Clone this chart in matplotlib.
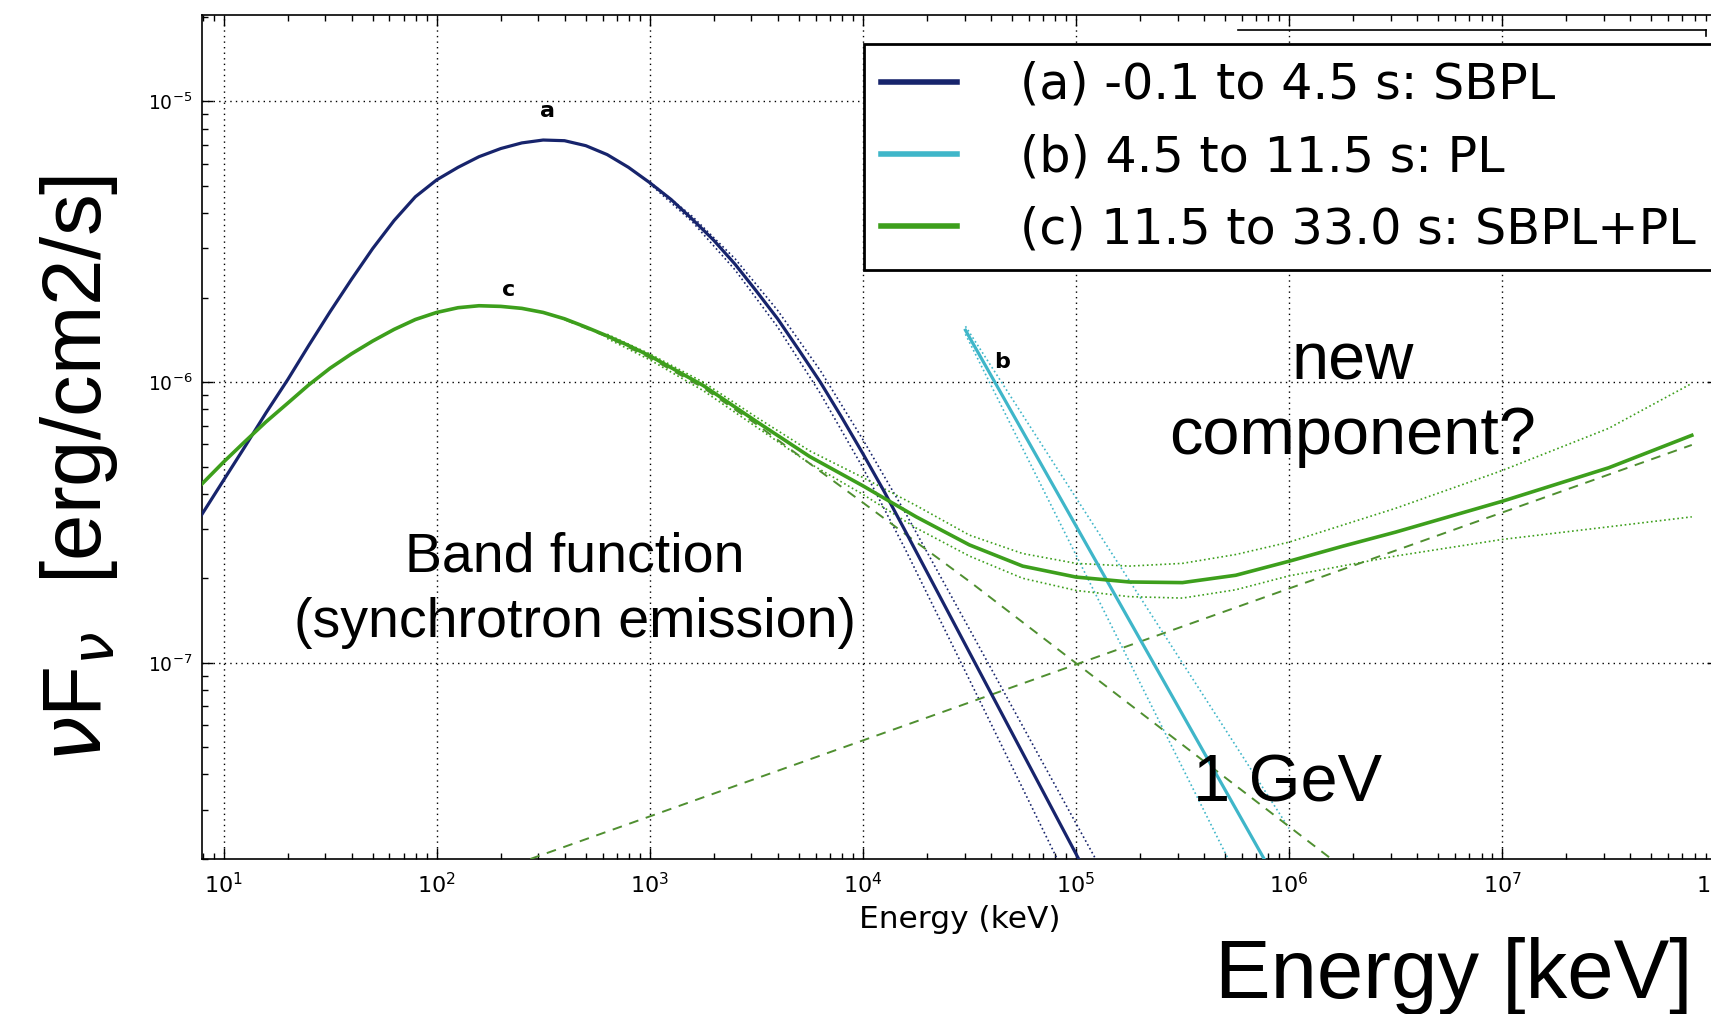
import matplotlib
matplotlib.use("Agg")
import matplotlib.pyplot as plt
from matplotlib.lines import Line2D

# values (energy in keV, nuFnu in erg/cm2/s)
e_a = [7.76, 10, 12.6, 15.8, 20, 25.1, 31.6, 39.8, 50.1, 63.1, 79.4, 100, 126, 158,
       200, 251, 316, 398, 501, 631, 794, 1000, 1259, 1585, 1995, 2512, 3162, 3981,
       5012, 6310, 7943, 1e4, 1.26e4, 1.58e4, 3.16e4, 1.03e5, 1.26e5]
f_a = [3.30e-7, 4.47e-7, 5.89e-7, 7.76e-7, 1.02e-6, 1.35e-6, 1.78e-6, 2.32e-6,
       2.99e-6, 3.76e-6, 4.57e-6, 5.25e-6, 5.82e-6, 6.35e-6, 6.79e-6, 7.11e-6,
       7.28e-6, 7.24e-6, 6.95e-6, 6.46e-6, 5.82e-6, 5.13e-6, 4.47e-6, 3.80e-6,
       3.20e-6, 2.63e-6, 2.11e-6, 1.68e-6, 1.30e-6, 1.0e-6, 7.50e-7, 5.56e-7,
       4.07e-7, 2.95e-7, 1.09e-7, 2.0e-8, 1.49e-8]
e_a_hi = [1000, 1585, 2512, 3981, 6310, 1e4, 1.58e4, 3.16e4, 1e5, 1.26e5]
f_a_hi = [5.16e-6, 3.89e-6, 2.75e-6, 1.80e-6, 1.10e-6, 6.24e-7, 3.43e-7, 1.32e-7,
          2.68e-8, 1.95e-8]
e_a_lo = [1000, 1585, 2512, 3981, 6310, 1e4, 1.58e4, 3.16e4, 7.94e4, 8.91e4]
f_a_lo = [5.09e-6, 3.72e-6, 2.51e-6, 1.57e-6, 9.12e-7, 4.95e-7, 2.54e-7, 8.71e-8,
          2.09e-8, 1.74e-8]

e_b = [3.03e4, 7.64e5]
f_b = [1.53e-6, 2.0e-8]
e_b_hi = [3.03e4, 1.0e6]
f_b_hi = [1.58e-6, 2.57e-8]
e_b_lo = [3.03e4, 5.18e5]
f_b_lo = [1.48e-6, 2.0e-8]

e_c = [7.76, 10, 12.6, 15.8, 20, 25.1, 31.6, 39.8, 50.1, 63.1, 79.4, 100, 126, 158,
       200, 251, 316, 398, 501, 631, 794, 1000, 1778, 3162, 5623, 1e4, 1.78e4,
       3.16e4, 5.62e4, 1e5, 1.78e5, 3.16e5, 5.62e5, 1e6, 1.78e6, 3.16e6, 1e7,
       3.16e7, 7.76e7]
f_c = [4.27e-7, 5.19e-7, 6.14e-7, 7.21e-7, 8.41e-7, 9.77e-7, 1.12e-6, 1.26e-6,
       1.40e-6, 1.54e-6, 1.67e-6, 1.77e-6, 1.84e-6, 1.87e-6, 1.86e-6, 1.83e-6,
       1.77e-6, 1.68e-6, 1.57e-6, 1.46e-6, 1.35e-6, 1.24e-6, 9.73e-7, 7.24e-7,
       5.43e-7, 4.27e-7, 3.31e-7, 2.63e-7, 2.21e-7, 2.02e-7, 1.94e-7, 1.93e-7,
       2.05e-7, 2.30e-7, 2.60e-7, 2.92e-7, 3.76e-7, 4.95e-7, 6.46e-7]
e_c_band = [631, 1000, 1778, 3162, 5623, 1e4, 1.78e4, 3.16e4, 5.62e4, 1e5, 1.78e5,
            3.16e5, 5.62e5, 1e6, 3.16e6, 1e7, 3.16e7, 7.76e7]
f_c_hi = [1.48e-6, 1.26e-6, 1.0e-6, 7.50e-7, 5.69e-7, 4.57e-7, 3.63e-7, 2.85e-7,
          2.45e-7, 2.26e-7, 2.21e-7, 2.26e-7, 2.43e-7, 2.69e-7, 3.55e-7, 4.84e-7,
          6.84e-7, 9.89e-7]
f_c_lo = [1.43e-6, 1.20e-6, 9.33e-7, 6.92e-7, 5.13e-7, 3.98e-7, 3.02e-7, 2.40e-7,
          2.0e-7, 1.81e-7, 1.72e-7, 1.70e-7, 1.82e-7, 2.04e-7, 2.40e-7, 2.75e-7,
          3.05e-7, 3.31e-7]
e_c_sbpl = [398, 631, 1000, 1778, 3162, 5623, 1e4, 1.78e4, 3.16e4, 1.58e6]
f_c_sbpl = [1.67e-6, 1.45e-6, 1.22e-6, 9.55e-7, 7.08e-7, 5.13e-7, 3.72e-7, 2.69e-7,
            1.95e-7, 2.0e-8]
e_c_pl = [275, 7.76e7]
f_c_pl = [2.0e-8, 5.97e-7]

labels = ["(a) -0.1 to 4.5 s: SBPL", "(b) 4.5 to 11.5 s: PL", "(c) 11.5 to 33.0 s: SBPL+PL"]
c_a, c_b, c_c, c_dash = "#17246c", "#3fb6c9", "#3d9f1c", "#4f8f30"

W, H = 1711, 1014
fig = plt.figure(figsize=(W / 100, H / 100), dpi=100)
ax = fig.add_axes([202 / W, 155 / H, 1516 / W, 844 / H])
ax.set_xscale("log")
ax.set_yscale("log")

ax.plot(e_a, f_a, color=c_a, lw=2.3, label=labels[0], zorder=4)
ax.plot(e_a_hi, f_a_hi, color=c_a, lw=1.2, ls=":", zorder=3)
ax.plot(e_a_lo, f_a_lo, color=c_a, lw=1.2, ls=":", zorder=3)

ax.plot(e_b, f_b, color=c_b, lw=2.3, label=labels[1], zorder=4)
ax.plot(e_b_hi, f_b_hi, color=c_b, lw=1.2, ls=":", zorder=3)
ax.plot(e_b_lo, f_b_lo, color=c_b, lw=1.2, ls=":", zorder=3)

ax.plot(e_c, f_c, color=c_c, lw=2.6, label=labels[2], zorder=4)
ax.plot(e_c_band, f_c_hi, color=c_c, lw=1.2, ls=":", zorder=3)
ax.plot(e_c_band, f_c_lo, color=c_c, lw=1.2, ls=":", zorder=3)
ax.plot(e_c_sbpl, f_c_sbpl, color=c_dash, lw=1.4, ls=(0, (5, 4)), zorder=3)
ax.plot(e_c_pl, f_c_pl, color=c_dash, lw=1.4, ls=(0, (5, 4)), zorder=3)

ax.set_xlim(7.92, 1.03e8)
ax.set_ylim(2.0e-8, 2.03e-5)
ax.grid(True, which="major", color="k", lw=1.0, ls=(0, (1, 3)))
ax.tick_params(which="both", direction="in", top=True, right=True, width=1)
ax.tick_params(which="major", length=8)
ax.tick_params(which="minor", length=4)
ax.tick_params(axis="x", labelsize=16, pad=9)
ax.tick_params(axis="y", labelsize=13.5, pad=7)
for s in ax.spines.values():
    s.set_linewidth(1.2)
ax.set_xlabel("Energy (keV)", fontsize=22.5, labelpad=6)

ax.text(331, 9.2e-6, "a", fontsize=16, fontweight="bold", ha="center", va="center")
ax.text(218, 2.13e-6, "c", fontsize=16, fontweight="bold", ha="center", va="center")
ax.text(4.51e4, 1.18e-6, "b", fontsize=16, fontweight="bold", ha="center", va="center")

leg = ax.legend(loc="upper left", bbox_to_anchor=(864 / W, 1 - 43.6 / H),
                bbox_transform=fig.transFigure, fontsize=35.5, frameon=True,
                fancybox=False, framealpha=1, edgecolor="k", borderpad=0.35,
                handlelength=1.54, handletextpad=1.28, labelspacing=0.49,
                borderaxespad=0)
leg.get_frame().set_linewidth(2.0)
for h in leg.get_lines():
    h.set_linewidth(4)

# stray frame line from the pasted screenshot
fig.add_artist(Line2D([1238 / W, 1706 / W], [1 - 30 / H, 1 - 30 / H], color="k", lw=1.2))
fig.add_artist(Line2D([1706 / W, 1706 / W], [1 - 30 / H, 1 - 36 / H], color="k", lw=1.2))

font = ["Liberation Sans", "DejaVu Sans"]
fig.text(575 / W, 1 - 558 / H, "Band function", fontsize=40, family=font,
         ha="center", va="center")
fig.text(575 / W, 1 - 623 / H, "(synchrotron emission)", fontsize=40, family=font,
         ha="center", va="center")
fig.text(1353 / W, 1 - 362 / H, "new", fontsize=48, family=font, ha="center", va="center")
fig.text(1353 / W, 1 - 437 / H, "component?", fontsize=48, family=font,
         ha="center", va="center")
fig.text(1288 / W, 1 - 785 / H, "1 GeV", fontsize=48, family=font, ha="center", va="center")
fig.text(1454 / W, 1 - 998 / H, "Energy [keV]", fontsize=60, family=font,
         ha="center", va="baseline")
fig.text(79 / W, 1 - 469 / H, r"$\nu$F$_\nu$  [erg/cm2/s]", fontsize=60, family=font,
         rotation=90, ha="center", va="center")

fig.savefig("out.png", dpi=100)
